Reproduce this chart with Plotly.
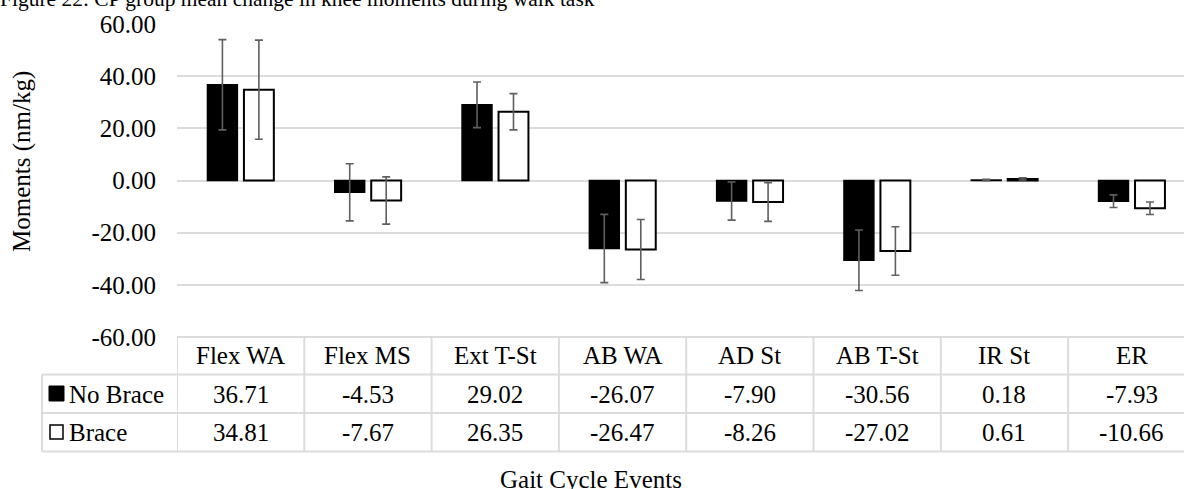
import plotly.graph_objects as go

# ---------------- data ----------------
categories = ["Flex WA", "Flex MS", "Ext T-St", "AB WA", "AD St", "AB T-St", "IR St", "ER"]
no_brace = [36.71, -4.53, 29.02, -26.07, -7.90, -30.56, 0.18, -7.93]
brace = [34.81, -7.67, 26.35, -26.47, -8.26, -27.02, 0.61, -10.66]
no_brace_sd = [17.3, 10.95, 8.75, 13.1, 7.3, 11.6, 0.3, 2.4]
brace_sd = [19.0, 9.05, 6.95, 11.5, 7.4, 9.3, 0.4, 2.4]
series_names = ["No Brace", "Brace"]
y_ticks = [-60, -40, -20, 0, 20, 40, 60]
title_text = "Figure 22: CP group mean change in knee moments during walk task"
y_title = "Moments (nm/kg)"
x_title = "Gait Cycle Events"

# ---------------- layout geometry ----------------
W, H = 1184, 489
L, T = 177, 24
PLOT_BOTTOM = 337
R = 0
B = H - PLOT_BOTTOM
PW = W - L - R
PH = PLOT_BOTTOM - T
CAT_W = 127.3

def px2x(px):
    return (px - L) / PW

def py2y(py):
    return (PLOT_BOTTOM - py) / PH

FONT = "Liberation Serif"
FS = 25
GRID = "#dcdcdc"
ERR = "#5f5f5f"

fig = go.Figure()
fig.add_trace(go.Bar(
    x=list(range(len(categories))), y=no_brace, name=series_names[0],
    marker=dict(color="black", line=dict(color="black", width=1.5)),
    error_y=dict(type="data", array=no_brace_sd, color=ERR, thickness=1.6, width=4),
    showlegend=False,
))
fig.add_trace(go.Bar(
    x=list(range(len(categories))), y=brace, name=series_names[1],
    marker=dict(color="white", line=dict(color="black", width=2)),
    error_y=dict(type="data", array=brace_sd, color=ERR, thickness=1.6, width=4),
    showlegend=False,
))

x_span = PW / CAT_W
fig.update_layout(
    width=W, height=H,
    margin=dict(l=L, r=R, t=T, b=B, pad=0),
    paper_bgcolor="white", plot_bgcolor="white",
    barmode="group", bargap=0.427, bargroupgap=0.18,
    font=dict(family=FONT, size=FS, color="black"),
    xaxis=dict(range=[-0.5, -0.5 + x_span], showticklabels=False, showgrid=False,
               zeroline=False, showline=False, ticks=""),
    yaxis=dict(range=[-60, 60], tickvals=y_ticks,
               ticktext=[f"{v:.2f}" for v in y_ticks],
               showgrid=True, gridcolor=GRID, gridwidth=1.5,
               zeroline=True, zerolinecolor=GRID, zerolinewidth=1.5,
               showline=False, ticks="", ticklabelstandoff=20,
               tickfont=dict(family=FONT, size=FS, color="black")),
)

shapes = []
line_style = dict(color=GRID, width=2)
# horizontal table lines
shapes.append(dict(type="line", xref="paper", yref="paper",
                   x0=px2x(177), x1=px2x(1184), y0=py2y(337), y1=py2y(337), line=line_style))
for py in [374.5, 413, 451.5]:
    shapes.append(dict(type="line", xref="paper", yref="paper",
                       x0=px2x(42), x1=px2x(1184), y0=py2y(py), y1=py2y(py), line=line_style))
# vertical table lines
shapes.append(dict(type="line", xref="paper", yref="paper",
                   x0=px2x(42), x1=px2x(42), y0=py2y(374.5), y1=py2y(451.5), line=line_style))
for k in range(len(categories)):
    shapes.append(dict(type="line", xref="x", yref="paper",
                       x0=k - 0.5, x1=k - 0.5, y0=py2y(337), y1=py2y(451.5), line=line_style))
# legend keys
shapes.append(dict(type="rect", xref="paper", yref="paper",
                   x0=px2x(49), x1=px2x(64), y0=py2y(401), y1=py2y(386),
                   fillcolor="black", line=dict(color="black", width=1)))
shapes.append(dict(type="rect", xref="paper", yref="paper",
                   x0=px2x(50), x1=px2x(63), y0=py2y(439), y1=py2y(425),
                   fillcolor="white", line=dict(color="black", width=1.5)))
fig.update_layout(shapes=shapes)

ann = []
row_y = [py2y(355.5), py2y(394), py2y(432.5)]
for i, c in enumerate(categories):
    ann.append(dict(x=i, y=row_y[0], xref="x", yref="paper", text=c, showarrow=False,
                    xanchor="center", yanchor="middle", font=dict(size=FS)))
    ann.append(dict(x=i, y=row_y[1], xref="x", yref="paper", text=f"{no_brace[i]:.2f}",
                    showarrow=False, xanchor="center", yanchor="middle", font=dict(size=FS)))
    ann.append(dict(x=i, y=row_y[2], xref="x", yref="paper", text=f"{brace[i]:.2f}",
                    showarrow=False, xanchor="center", yanchor="middle", font=dict(size=FS)))
ann.append(dict(x=px2x(67), y=row_y[1], xref="paper", yref="paper", text=series_names[0],
                showarrow=False, xanchor="left", yanchor="middle", font=dict(size=FS)))
ann.append(dict(x=px2x(67), y=row_y[2], xref="paper", yref="paper", text=series_names[1],
                showarrow=False, xanchor="left", yanchor="middle", font=dict(size=FS)))
ann.append(dict(x=px2x(591), y=py2y(479.5), xref="paper", yref="paper", text=x_title,
                showarrow=False, xanchor="center", yanchor="middle", font=dict(size=FS)))
ann.append(dict(x=px2x(22), y=py2y(162), xref="paper", yref="paper", text=y_title,
                textangle=-90, showarrow=False, xanchor="center", yanchor="middle",
                font=dict(size=FS)))
ann.append(dict(x=px2x(-2), y=py2y(-1), xref="paper", yref="paper", text=title_text,
                showarrow=False, xanchor="left", yanchor="middle", font=dict(size=21.5)))
fig.update_layout(annotations=ann)

fig.write_html("out.html", config={"displayModeBar": False},
               post_script="document.body.style.margin='0px';")
